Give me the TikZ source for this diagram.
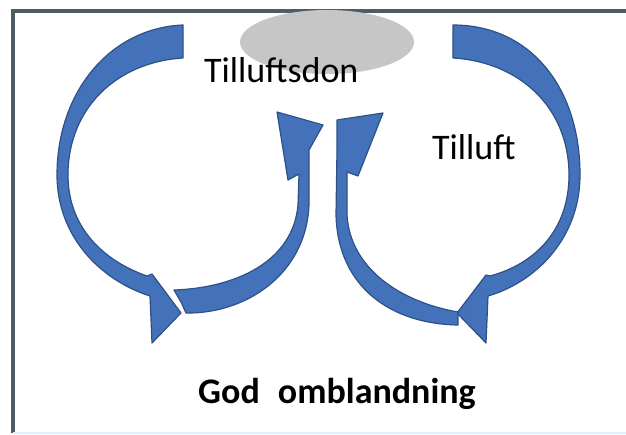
\documentclass[tikz,border=0pt]{standalone}
\usepackage{fontspec}
\setmainfont{Carlito}
\usepackage{xcolor}
\usetikzlibrary{positioning, shapes.geometric}

\definecolor{framegray}{RGB}{77,93,104}
\definecolor{arrowfill}{RGB}{68,114,186}
\definecolor{arrowedge}{RGB}{45,80,135}
\definecolor{dongray}{RGB}{198,198,198}

\begin{document}
\begin{tikzpicture}[x=1pt, y=-1pt,
    blockarrow/.style={fill=arrowfill, draw=arrowedge, line width=1.2pt, line join=round},
    label/.style={inner sep=0pt, anchor=base west, font=\fontsize{36}{40}\selectfont}]
    \useasboundingbox (0,0) rectangle (626,435);
    \fill[white] (0,0) rectangle (626,435);

    % Frame
    \draw[framegray, line width=4pt] (13,433) -- (13,11) -- (626,11);
    \draw[cyan!15, line width=1.5pt] (13,433) -- (626,433);

    % Supply air device
    \node[ellipse, fill=dongray, minimum width=174pt, minimum height=64pt] (don) at (327,42) {};

    % Big arrows, left and right
    \path[blockarrow] (183,25) .. controls (110,28) and (57,92) .. (57,175)
        .. controls (57,236) and (100,280) .. (150,296)
        -- (152,343) -- (181,313) -- (152,274) -- (147,276)
        .. controls (104,261) and (68,228) .. (68,175)
        .. controls (68,108) and (117,62) .. (183,58) -- cycle;
    \path[blockarrow] (453,25) .. controls (530,25) and (580,87) .. (580,175)
        .. controls (580,238) and (536,282) .. (488,296)
        -- (486,343) -- (457,313) -- (486,275) -- (490,276)
        .. controls (535,264) and (569,230) .. (569,175)
        .. controls (569,108) and (520,62) .. (453,58) -- cycle;

    % Small arrows back up to the device
    \path[blockarrow] (174,290) .. controls (235,288) and (293,262) .. (298,205)
        -- (299,174) -- (288,180) -- (277,112) -- (323,125) -- (309,150)
        -- (309,205) .. controls (306,275) and (245,314) .. (186,313)
        -- (181,302) -- cycle;
    \path[blockarrow] (458,312) .. controls (400,302) and (350,268) .. (347,215)
        -- (347,172) -- (358,176) -- (383,113) -- (337,120) -- (337,150)
        -- (336,215) .. controls (338,288) and (392,324) .. (458,325) -- cycle;

    % Labels
    \node[label] (donlbl) at (204,83) {Tilluftsdon};
    \node[label] (airlbl) at (432,160) {Tilluft};
    \node[label, font=\fontsize{36}{40}\selectfont\bfseries] (mixlbl) at (198,403) {God\hspace{10pt} omblandning};
\end{tikzpicture}
\end{document}
